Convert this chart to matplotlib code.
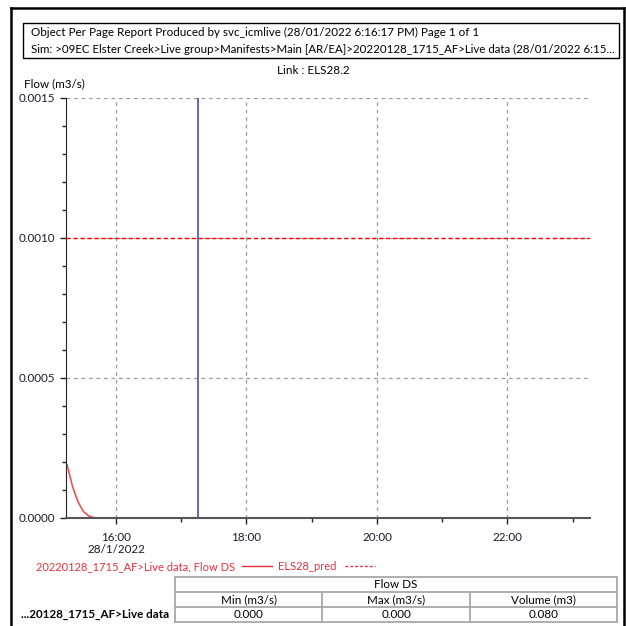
import datetime as dt
import matplotlib
matplotlib.use("Agg")
import matplotlib.pyplot as plt
import matplotlib.dates as mdates
from matplotlib.lines import Line2D
from matplotlib.patches import Rectangle
from matplotlib.ticker import MultipleLocator

# ---- data ----
day = "2022-01-28"
times = ["15:15", "15:20", "15:25", "15:30", "15:35", "15:40", "15:45", "23:15"]
flow_ds = [0.00019, 0.000112, 0.000058, 0.000023, 0.000007, 0.000001, 0.0, 0.0]
pred_level = 0.0010          # ELS28_pred
forecast_time = "17:15"
x_start, x_end = "15:14", "23:16"
major_hours = [16, 18, 20, 22]
tick_labels = ["16:00\n28/1/2022", "18:00", "20:00", "22:00"]
y_ticks = [0.0, 0.0005, 0.0010, 0.0015]

header1 = "Object Per Page Report Produced by svc_icmlive (28/01/2022 6:16:17 PM) Page 1 of 1"
header2 = ("Sim: >09EC Elster Creek>Live group>Manifests>Main [AR/EA]>"
           "20220128_1715_AF>Live data (28/01/2022 6:15...")
link_title = "Link : ELS28.2"
series_name = "20220128_1715_AF>Live data, Flow DS"
pred_name = "ELS28_pred"
table_group = "Flow DS"
table_cols = ["Min (m3/s)", "Max (m3/s)", "Volume (m3)"]
row_label = "...20128_1715_AF>Live data"
row_values = ["0.000", "0.000", "0.080"]

plt.rcParams['font.family'] = ['Lato', 'DejaVu Sans']
FS = 8.4
W = H = 626


def t(s):
    return dt.datetime.strptime(day + " " + s, "%Y-%m-%d %H:%M")


def px(x, y):
    # pixel position (from top-left) -> figure fraction
    return x / W, 1 - y / H


def hline(x1, x2, y, **kw):
    fig.add_artist(Line2D([x1 / W, x2 / W], [1 - y / H] * 2,
                          transform=fig.transFigure, **kw))


fig = plt.figure(figsize=(6.26, 6.26), dpi=100)
fig.set_facecolor('white')

# outer page frame
for xs, ys in [([11, 11], [8, 626]), ([11, 624], [8, 8]), ([624, 624], [8, 626])]:
    fig.add_artist(Line2D([x / W for x in xs], [1 - y / H for y in ys],
                          color='black', lw=1.8, transform=fig.transFigure))

# header box
x0, y0 = px(23, 58)
fig.add_artist(Rectangle((x0, y0), (619 - 23) / W, (58 - 23) / H, fill=False,
                         ec='black', lw=1.0, transform=fig.transFigure))
fig.text(*px(31, 32), header1, fontsize=FS, va='center', ha='left')
fig.text(*px(31, 49), header2, fontsize=FS - 0.1, va='center', ha='left')
fig.text(*px(313, 70), link_title, fontsize=FS, va='center', ha='center')
fig.text(*px(24, 84), "Flow (m3/s)", fontsize=FS, va='center', ha='left')

# main axes
ax = fig.add_axes([66 / W, 1 - 518 / H, (590 - 66) / W, (518 - 98) / H])
ax.set_xlim(t(x_start), t(x_end))
ax.set_ylim(0, 0.0015)

ax.plot([t(s) for s in times], flow_ds, color='#ef5050', lw=1.2, zorder=2)
ax.axhline(pred_level, color='#ff0000', lw=1.0, dashes=(3, 2), zorder=3)
ax.axvline(t(forecast_time), color='#5a5aae', lw=1.3, zorder=3)

ax.xaxis.set_major_locator(mdates.HourLocator(byhour=major_hours))
ax.xaxis.set_minor_locator(mdates.HourLocator())
ax.set_xticks([t("%02d:00" % h) for h in major_hours])
ax.set_xticklabels(tick_labels, linespacing=1.15)
ax.set_yticks(y_ticks)
ax.set_yticklabels(["%.4f" % v for v in y_ticks])
ax.yaxis.set_minor_locator(MultipleLocator(0.0001))

ax.tick_params(axis='both', which='major', labelsize=FS, length=4, width=1,
               color='#222222', labelcolor='#1a1a2a')
ax.tick_params(axis='both', which='minor', length=3, width=1, color='#222222')
ax.tick_params(axis='x', pad=6)
ax.tick_params(axis='y', pad=4)

ax.grid(True, which='major', color='#9a9a9a', lw=0.9, dashes=(3, 3))
for side in ['top', 'right']:
    ax.spines[side].set_visible(False)
ax.spines['left'].set_color('#222222')
ax.spines['bottom'].set_color('#555555')
ax.spines['bottom'].set_linewidth(1.5)
ax.set_axisbelow(True)

# legend line under the chart, laid out left to right
red = '#e8303a'
LFS = FS - 0.35
renderer = fig.canvas.get_renderer()
x = 36
txt = fig.text(*px(x, 567), series_name, fontsize=LFS, color=red, va='center', ha='left')
x = txt.get_window_extent(renderer).x1 + 7
hline(x, x + 30, 566, color=red, lw=1.0)
x += 36
txt = fig.text(*px(x, 567), pred_name, fontsize=LFS, color=red, va='center', ha='left')
x = txt.get_window_extent(renderer).x1 + 8
hline(x, x + 30, 566, color=red, lw=1.0, dashes=(2, 1.5))

# summary table
tl, tr = 175, 617
rows_y = [577, 592, 607, 622]
grey = '#a8a8a8'
col_w = (tr - tl) / len(table_cols)
for y in rows_y:
    hline(tl, tr, y, color=grey, lw=1.3)
for i in range(len(table_cols) + 1):
    xc = tl + i * col_w
    top = rows_y[0] if i in (0, len(table_cols)) else rows_y[1]
    fig.add_artist(Line2D([xc / W] * 2, [1 - top / H, 1 - rows_y[-1] / H],
                          color=grey, lw=1.3, transform=fig.transFigure))
fig.text(*px((tl + tr) / 2, 584.5), table_group, fontsize=FS, va='center', ha='center')
for i, (c, v) in enumerate(zip(table_cols, row_values)):
    cx = tl + (i + 0.5) * col_w
    fig.text(*px(cx, 599.5), c, fontsize=FS, va='center', ha='center')
    fig.text(*px(cx, 614.5), v, fontsize=FS, va='center', ha='center')
fig.text(*px(169, 614.5), row_label, fontsize=FS, fontweight='bold',
         va='center', ha='right')

fig.savefig("out.png", dpi=100, facecolor='white')
